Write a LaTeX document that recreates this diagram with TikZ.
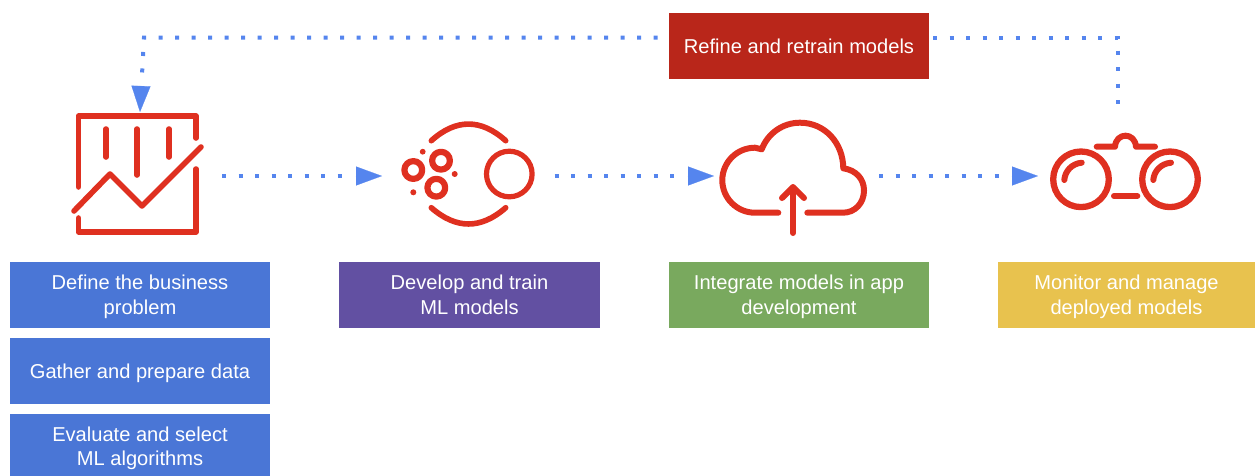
\documentclass[tikz,border=0pt]{standalone}
\usepackage{fontspec}
\setmainfont{Liberation Sans}
\usetikzlibrary{arrows.meta}
\definecolor{bluebox}{HTML}{4A76D6}
\definecolor{purplebox}{HTML}{6250A2}
\definecolor{greenbox}{HTML}{79A95E}
\definecolor{yellowbox}{HTML}{E8C24E}
\definecolor{redbox}{HTML}{B9261A}
\definecolor{iconred}{HTML}{DF3020}
\definecolor{flowblue}{HTML}{5585EE}
\newcommand\tstrut[1][21]{\rule{0pt}{#1pt}}
\newcommand\bstrut{\rule[-7pt]{0pt}{7pt}}
\tikzset{
  labelbox/.style={inner sep=0pt,outer sep=0pt,minimum height=66pt,text=white,align=center,
    font=\fontsize{20.1}{24.5}\selectfont},
  iconbox/.style={inner sep=0pt,outer sep=0pt,minimum height=120pt},
  icon/.style={draw=iconred,line width=5.6pt,line cap=round,line join=round,fill=none},
  dotflow/.style={draw=flowblue,line width=4pt,dash pattern=on 4pt off 12.5pt},
  flowhead/.style={draw=flowblue,line width=0.2pt,-{Triangle[length=26pt,width=19pt,fill=flowblue,color=flowblue]}}
}
\begin{document}
\begin{tikzpicture}[x=1pt,y=-1pt]
\useasboundingbox (0,0) rectangle (1255,475);
% boxes
\node[labelbox,fill=bluebox,minimum width=260pt] (define) at (140,295) {\tstrut Define the business\\problem\bstrut};
\node[labelbox,fill=bluebox,minimum width=260pt] (gather) at (140,371) {\tstrut Gather and prepare data\bstrut};
\node[labelbox,fill=bluebox,minimum width=260pt] (evaluate) at (140,447) {\tstrut[19.5]Evaluate and select\\ML algorithms\bstrut};
\node[labelbox,fill=purplebox,minimum width=261pt] (develop) at (469.5,295) {\tstrut Develop and train\\ML models\bstrut};
\node[labelbox,fill=greenbox,minimum width=260pt] (integrate) at (799,295) {\tstrut Integrate models in app\\development\bstrut};
\node[labelbox,fill=yellowbox,minimum width=257pt] (monitor) at (1126.5,295) {\tstrut Monitor and manage\\deployed models\bstrut};
\node[labelbox,fill=redbox,minimum width=260pt] (refine) at (799,46) {\tstrut Refine and retrain models\bstrut};
% icon anchors
\node[iconbox,minimum width=133pt] (icon1) at (138.5,176) {};
\node[iconbox,minimum width=154pt] (icon2) at (459,176) {};
\node[iconbox,minimum width=152pt] (icon3) at (790,176) {};
\node[iconbox,minimum width=165pt] (icon4) at (1120.5,176) {};
% connectors
\coordinate (loopL) at (144,37.5);
\coordinate (loopR) at (1118,37.5);
\coordinate (loopEnd) at (1118,104);
\coordinate (iconTop) at (140,112);
\coordinate (headTop) at (141,85.5);
\draw[dotflow,shorten <=17pt,shorten >=30pt] (icon1.east) -- (icon2.west);
\draw[flowhead] ([xshift=-26.5pt]icon2.west) -- (icon2.west);
\draw[dotflow,shorten <=18.7pt,shorten >=30pt] (icon2.east) -- (icon3.west);
\draw[flowhead] ([xshift=-26.5pt]icon3.west) -- (icon3.west);
\draw[dotflow,shorten <=13pt,shorten >=30pt] (icon3.east) -- (icon4.west);
\draw[flowhead] ([xshift=-26.5pt]icon4.west) -- (icon4.west);
\draw[dotflow,shorten <=11.5pt,shorten >=30pt] (refine.west |- loopL) -- (loopL) -- (iconTop);
\draw[flowhead] (headTop) -- (iconTop);
\draw[dotflow,shorten <=4pt] (refine.east |- loopR) -- (loopR) -- (loopEnd);
% icon 1: chart
\draw[icon] (78.5,187) -- (78.5,116) -- (196,116) -- (196,138);
\draw[icon] (196,169) -- (196,232) -- (78.5,232) -- (78.5,218);
\draw[icon] (106,129) -- (106,157);
\draw[icon] (137,129) -- (137,175);
\draw[icon] (169,129) -- (169,157);
\draw[icon] (74,211) -- (110,174) -- (142,206) -- (201,147);
% icon 2: clusters
\draw[icon,line width=5.2pt] (509.3,174) circle[radius=22.8];
\draw[icon,line width=6.2pt] (413.3,170) circle[radius=8.9];
\draw[icon,line width=6.2pt] (441,160.7) circle[radius=8.9];
\draw[icon,line width=6.2pt] (436.3,187.7) circle[radius=8.9];
\fill[iconred] (422.7,151.7) circle[radius=2.9];
\fill[iconred] (454.7,174) circle[radius=3];
\fill[iconred] (413.3,192.3) circle[radius=3];
\draw[icon] (431.3,140.7) .. controls (456,118.5) and (481,118.5) .. (505.7,140.7);
\draw[icon] (431.3,207.7) .. controls (456,229.4) and (481,229.4) .. (505.7,207.7);
% icon 3: cloud
\draw[icon,line width=6pt] (778.3,212.7) -- (755,212.7)
  .. controls (737,212.7) and (722.3,198.2) .. (722.3,180.2)
  .. controls (722.3,162.2) and (737,147.7) .. (755,147.7)
  -- (761.7,149.3)
  .. controls (768,133) and (783,122.7) .. (800,122.7)
  .. controls (825,122.7) and (843,143) .. (843.3,168.3)
  .. controls (856,170) and (864,179) .. (864,190.5)
  .. controls (864,203) and (855,212.7) .. (843,212.7)
  -- (807.3,212.7);
\draw[icon,line width=6pt] (793,233) -- (793,188);
\draw[icon,line width=6pt] (782,198) -- (793,187) -- (804,198);
% icon 4: binoculars
\draw[icon,line width=6.3pt] (1081,179.3) circle[radius=27.8];
\draw[icon,line width=6.3pt] (1170,179.3) circle[radius=27.8];
\draw[icon,line width=6pt] (1064.3,180) .. controls (1065,171) and (1072,163.5) .. (1081.7,162.7);
\draw[icon,line width=6pt] (1153.3,180) .. controls (1154,171) and (1161,163.5) .. (1171,162.7);
\draw[icon,line width=6pt] (1114,196) -- (1137.3,196);
\draw[icon,line width=6pt] (1096.7,146.7) -- (1115,146.7) .. controls (1116,132) and (1135,132) .. (1136,146.7) -- (1155,146.7);
\end{tikzpicture}
\end{document}
